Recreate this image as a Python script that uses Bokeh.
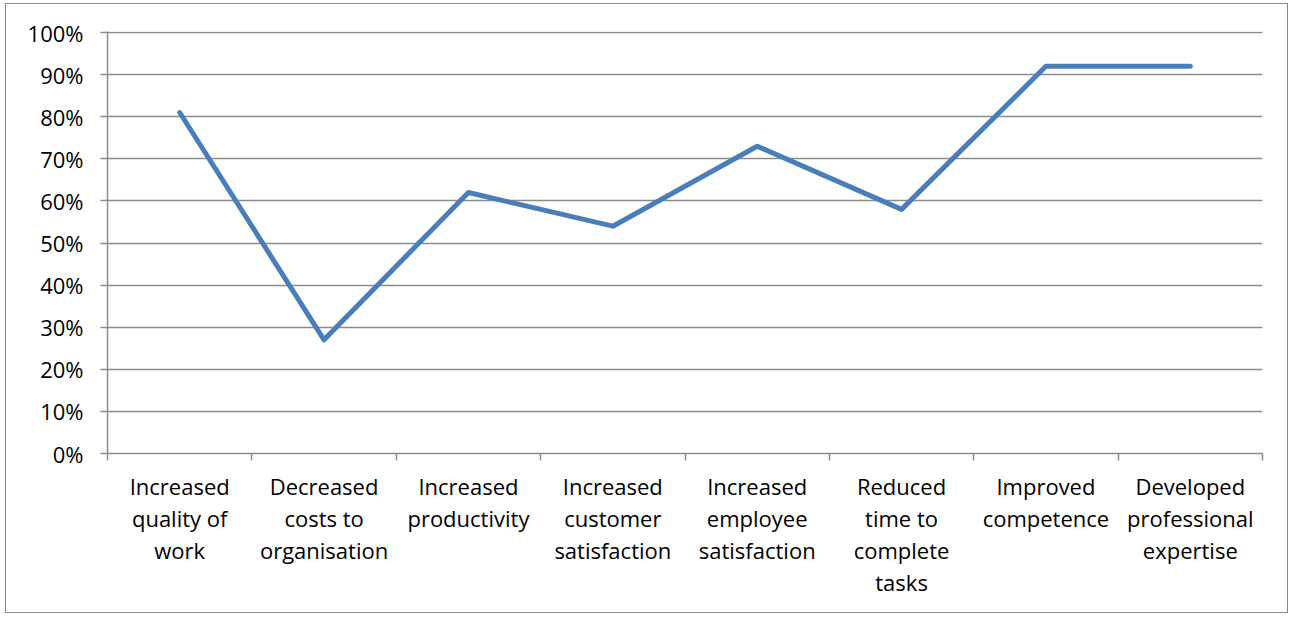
from bokeh.plotting import figure
from bokeh.models import FixedTicker, PrintfTickFormatter, Range1d
from bokeh.embed import file_html
from bokeh.resources import INLINE

# Survey outcomes and the share of respondents reporting each
categories = [
    "Increased\nquality of\nwork",
    "Decreased\ncosts to\norganisation",
    "Increased\nproductivity",
    "Increased\ncustomer\nsatisfaction",
    "Increased\nemployee\nsatisfaction",
    "Reduced\ntime to\ncomplete\ntasks",
    "Improved\ncompetence",
    "Developed\nprofessional\nexpertise",
]
values = [81, 27, 62, 54, 73, 58, 92, 92]
y_ticks = [0, 10, 20, 30, 40, 50, 60, 70, 80, 90, 100]

FONT = "Open Sans"
GRID = "#8c8c8c"
TEXT = "#000000"

n = len(categories)
xs = [i + 0.5 for i in range(n)]

p = figure(
    width=1283, height=610,
    x_range=Range1d(0, n), y_range=Range1d(0, 100.25),
    output_backend="svg", toolbar_location=None,
    min_border_left=101, min_border_right=27,
    min_border_top=27, min_border_bottom=161,
)
p.styles = {"border": "1.5px solid #8a8a8a", "margin-left": "5px", "margin-top": "3px"}
p.outline_line_color = None
p.background_fill_color = "white"
p.border_fill_color = "white"

# y axis: percentage scale with outside ticks
p.yaxis.ticker = FixedTicker(ticks=y_ticks)
p.yaxis.formatter = PrintfTickFormatter(format="%d%%")
p.yaxis.major_tick_in = 0
p.yaxis.major_tick_out = 7
p.yaxis.minor_tick_line_color = None
p.yaxis.major_tick_line_color = GRID
p.yaxis.major_tick_line_width = 1.5
p.yaxis.axis_line_color = GRID
p.yaxis.axis_line_width = 1.5
p.yaxis.major_label_text_font = FONT
p.yaxis.major_label_text_font_size = "22px"
p.yaxis.major_label_text_color = TEXT
p.yaxis.major_label_standoff = 17

# x axis: category names at centres, tick marks between categories
p.xaxis.ticker = FixedTicker(ticks=xs, minor_ticks=list(range(n + 1)))
p.xaxis.major_label_overrides = {x: name for x, name in zip(xs, categories)}
p.xaxis.major_tick_line_color = None
p.xaxis.minor_tick_in = 0
p.xaxis.minor_tick_out = 7
p.xaxis.minor_tick_line_color = GRID
p.xaxis.minor_tick_line_width = 1.5
p.xaxis.axis_line_color = GRID
p.xaxis.axis_line_width = 1.5
p.xaxis.major_label_text_font = FONT
p.xaxis.major_label_text_font_size = "22px"
p.xaxis.major_label_text_color = TEXT
p.xaxis.major_label_text_line_height = 1.07
p.xaxis.major_label_standoff = 10

p.xgrid.grid_line_color = None
p.ygrid.ticker = FixedTicker(ticks=y_ticks)
p.ygrid.grid_line_color = GRID
p.ygrid.grid_line_width = 1.5

p.line(xs, values, line_color="#4a7ebb", line_width=5,
       line_cap="round", line_join="round")

open("out.html", "w").write(file_html(p, INLINE))
